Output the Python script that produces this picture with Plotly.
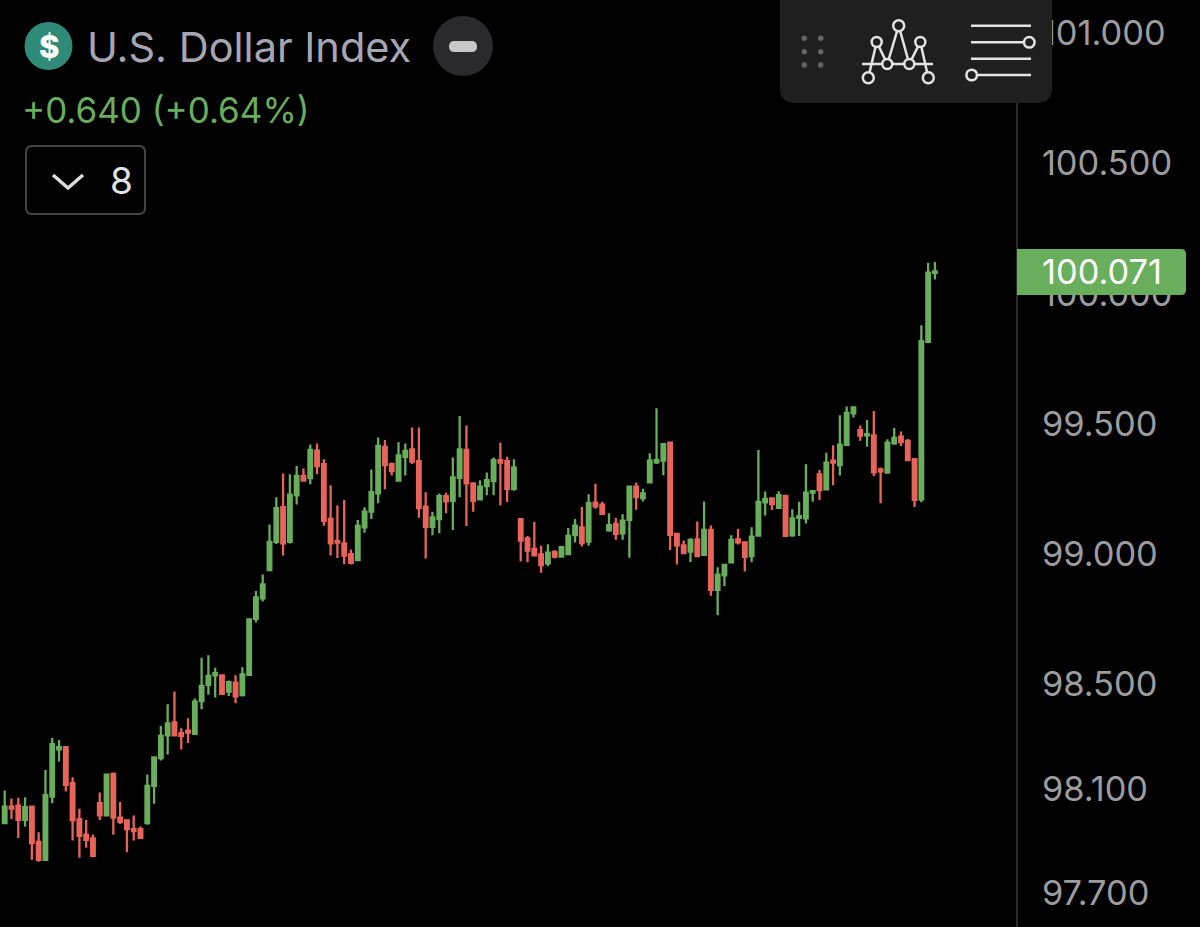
"""
U.S. Dollar Index candlestick chart on a dark phone-style screen
"""

import plotly.graph_objects as go

opens = [
    97.968, 98.031, 98.035, 97.980, 98.031, 97.896, 97.827, 98.070, 98.251, 98.259,
    98.121, 97.983, 97.924, 97.909, 98.044, 97.998, 98.157, 97.989, 97.978, 97.945,
    97.945, 97.968, 98.111, 98.217, 98.305, 98.354, 98.313, 98.323, 98.310, 98.436,
    98.498, 98.535, 98.535, 98.473, 98.507, 98.459, 98.537, 98.752, 98.830, 98.939,
    99.047, 99.180, 99.047, 99.226, 99.300, 99.292, 99.397, 99.345, 99.135, 99.050,
    99.041, 99.000, 98.977, 99.103, 99.163, 99.233, 99.412, 99.345, 99.282, 99.373,
    99.402, 99.357, 99.182, 99.105, 99.135, 99.223, 99.205, 99.293, 99.400, 99.272,
    99.210, 99.261, 99.281, 99.361, 99.357, 99.251, 99.134, 99.060, 99.020, 98.999,
    98.965, 99.009, 98.991, 99.000, 99.073, 99.103, 99.048, 99.198, 99.190, 99.091,
    99.116, 99.080, 99.132, 99.259, 99.215, 99.276, 99.352, 99.359, 99.428, 99.078,
    99.034, 99.010, 99.057, 98.997, 99.093, 98.863, 98.919, 98.969, 99.057, 99.045,
    98.993, 99.071, 99.199, 99.214, 99.178, 99.224, 99.072, 99.139, 99.137, 99.236,
    99.306, 99.249, 99.359, 99.342, 99.419, 99.540, 99.476, 99.456, 99.456, 99.325,
    99.313, 99.425, 99.451, 99.435, 99.365, 99.210, 99.815, 100.080,
]
highs = [
    98.093, 98.062, 98.065, 98.067, 98.034, 97.933, 98.172, 98.295, 98.287, 98.262,
    98.144, 98.023, 97.980, 97.924, 98.085, 98.157, 98.162, 98.049, 97.980, 97.997,
    97.955, 98.154, 98.221, 98.341, 98.424, 98.473, 98.332, 98.370, 98.446, 98.602,
    98.612, 98.564, 98.535, 98.515, 98.535, 98.566, 98.754, 98.859, 98.922, 99.114,
    99.218, 99.310, 99.307, 99.338, 99.329, 99.421, 99.425, 99.364, 99.264, 99.187,
    99.208, 99.018, 99.131, 99.180, 99.325, 99.448, 99.438, 99.352, 99.429, 99.425,
    99.486, 99.486, 99.238, 99.163, 99.233, 99.236, 99.371, 99.530, 99.494, 99.274,
    99.284, 99.313, 99.371, 99.428, 99.374, 99.364, 99.139, 99.070, 99.123, 99.032,
    99.038, 99.015, 99.032, 99.100, 99.135, 99.181, 99.230, 99.270, 99.201, 99.157,
    99.139, 99.153, 99.262, 99.275, 99.251, 99.387, 99.560, 99.426, 99.430, 99.080,
    99.052, 99.061, 99.125, 99.202, 99.110, 98.950, 98.963, 99.073, 99.097, 99.048,
    99.103, 99.400, 99.240, 99.214, 99.241, 99.227, 99.172, 99.201, 99.345, 99.246,
    99.323, 99.389, 99.418, 99.533, 99.567, 99.563, 99.494, 99.515, 99.549, 99.333,
    99.441, 99.484, 99.471, 99.442, 99.368, 99.878, 100.118, 100.121,
]
lows = [
    97.965, 97.984, 97.911, 97.955, 97.827, 97.820, 97.823, 98.044, 98.204, 98.089,
    97.901, 97.835, 97.873, 97.837, 97.980, 97.996, 97.923, 97.964, 97.856, 97.901,
    97.911, 97.962, 98.042, 98.208, 98.231, 98.303, 98.250, 98.275, 98.306, 98.405,
    98.460, 98.450, 98.463, 98.456, 98.428, 98.454, 98.537, 98.738, 98.818, 98.939,
    99.039, 98.995, 99.041, 99.191, 99.282, 99.268, 99.307, 99.109, 98.995, 98.985,
    98.961, 98.960, 98.977, 99.082, 99.135, 99.195, 99.249, 99.302, 99.282, 99.302,
    99.346, 99.140, 98.983, 99.073, 99.080, 99.157, 99.093, 99.218, 99.108, 99.163,
    99.210, 99.226, 99.226, 99.187, 99.200, 99.243, 98.972, 98.969, 98.994, 98.929,
    98.955, 98.983, 98.988, 98.999, 99.045, 99.029, 99.032, 99.174, 99.149, 99.086,
    99.055, 99.055, 98.986, 99.170, 99.202, 99.276, 99.346, 99.303, 99.016, 98.960,
    99.004, 98.970, 98.993, 98.996, 98.840, 98.766, 98.878, 98.968, 99.037, 98.933,
    98.969, 99.071, 99.148, 99.169, 99.178, 99.067, 99.067, 99.070, 99.118, 99.201,
    99.208, 99.244, 99.264, 99.302, 99.415, 99.524, 99.435, 99.412, 99.300, 99.195,
    99.310, 99.420, 99.415, 99.361, 99.181, 99.199, 99.809, 100.054,
]
closes = [
    98.031, 98.024, 97.980, 98.029, 97.891, 97.827, 98.075, 98.271, 98.259, 98.115,
    97.978, 97.919, 97.904, 97.842, 97.998, 98.154, 97.989, 97.973, 97.945, 97.937,
    97.911, 98.111, 98.220, 98.303, 98.351, 98.305, 98.303, 98.315, 98.434, 98.494,
    98.533, 98.543, 98.464, 98.509, 98.454, 98.539, 98.750, 98.834, 98.884, 99.047,
    99.177, 99.041, 99.228, 99.300, 99.282, 99.400, 99.338, 99.128, 99.041, 99.044,
    98.994, 98.967, 99.108, 99.163, 99.238, 99.415, 99.342, 99.319, 99.379, 99.396,
    99.355, 99.177, 99.105, 99.141, 99.223, 99.203, 99.295, 99.402, 99.272, 99.205,
    99.259, 99.284, 99.361, 99.351, 99.251, 99.333, 99.052, 99.014, 98.995, 98.958,
    99.006, 98.991, 99.027, 99.070, 99.109, 99.042, 99.196, 99.183, 99.155, 99.111,
    99.078, 99.129, 99.259, 99.219, 99.233, 99.359, 99.361, 99.422, 99.074, 99.034,
    99.004, 99.055, 98.993, 99.093, 98.863, 98.921, 98.959, 99.055, 99.045, 98.990,
    99.067, 99.201, 99.212, 99.192, 99.226, 99.070, 99.137, 99.146, 99.236, 99.242,
    99.246, 99.351, 99.351, 99.420, 99.542, 99.563, 99.455, 99.461, 99.314, 99.318,
    99.428, 99.446, 99.430, 99.361, 99.208, 99.817, 100.080, 100.085,
]
tick_values = [101.0, 100.5, 100.0, 99.5, 99.0, 98.5, 98.1, 97.7]
tick_labels = ["101.000", "100.500", "100.000", "99.500", "99.000", "98.500", "98.100", "97.700"]

title_text = "U.S. Dollar Index"
change_text = "+0.640 (+0.64%)"
interval_text = "8"
last_price_text = "100.071"

WIDTH = 1200
HEIGHT = 927
PLOT_W = 1016
GREEN = "#69ae5c"
RED = "#e8645a"
ICON = "#e4e4e4"
PANEL = "#1f1f1f"
FONT = "Inter"


def px(x):
    return x / PLOT_W


def py(y):
    return 1 - y / HEIGHT


def add_line(fig, points, color=ICON, width=2.5):
    path = "M " + " L ".join(f"{px(x)},{py(y)}" for x, y in points)
    fig.add_shape(type="path", path=path, xref="paper", yref="paper",
                  line={"color": color, "width": width})


def add_dot(fig, x, y, r, fill, line_color=None, width=2.5):
    fig.add_shape(type="circle", xref="paper", yref="paper",
                  x0=px(x - r), x1=px(x + r), y0=py(y + r), y1=py(y - r),
                  fillcolor=fill,
                  line={"color": line_color or fill, "width": width if line_color else 0})


def add_round_rect(fig, x0, y0, x1, y1, rad, fill, line_color=None, width=0, rad_left=None):
    # rounded box as a path, rad_left lets the left corners differ
    rl = rad if rad_left is None else rad_left
    path = (
        f"M {px(x0 + rl)},{py(y0)} L {px(x1 - rad)},{py(y0)} "
        f"Q {px(x1)},{py(y0)} {px(x1)},{py(y0 + rad)} L {px(x1)},{py(y1 - rad)} "
        f"Q {px(x1)},{py(y1)} {px(x1 - rad)},{py(y1)} L {px(x0 + rl)},{py(y1)} "
        f"Q {px(x0)},{py(y1)} {px(x0)},{py(y1 - rl)} L {px(x0)},{py(y0 + rl)} "
        f"Q {px(x0)},{py(y0)} {px(x0 + rl)},{py(y0)} Z"
    )
    fig.add_shape(type="path", path=path, xref="paper", yref="paper", fillcolor=fill,
                  line={"color": line_color or fill, "width": width})


def add_text(fig, x, y, text, size, color, weight=400, anchor="left"):
    fig.add_annotation(xref="paper", yref="paper", x=px(x), y=py(y), text=text,
                       showarrow=False, xanchor=anchor, yanchor="middle",
                       font={"family": FONT, "size": size, "color": color, "weight": weight})


fig = go.Figure(
    go.Candlestick(
        x=list(range(len(closes))),
        open=opens,
        high=highs,
        low=lows,
        close=closes,
        whiskerwidth=0,
        increasing={"line": {"color": GREEN, "width": 2.3}, "fillcolor": GREEN},
        decreasing={"line": {"color": RED, "width": 2.3}, "fillcolor": RED},
    )
)

fig.update_layout(
    width=WIDTH,
    height=HEIGHT,
    margin={"l": 0, "r": WIDTH - PLOT_W, "t": 0, "b": 0},
    paper_bgcolor="#000000",
    plot_bgcolor="#000000",
    showlegend=False,
    boxgap=0.25,
)
fig.update_xaxes(range=[-0.692, 148.94], visible=False, rangeslider={"visible": False})
fig.update_yaxes(
    side="right",
    range=[97.5692, 101.1266],
    tickvals=tick_values,
    ticktext=tick_labels,
    tickfont={"family": FONT, "size": 34.4, "color": "#9c9c9f"},
    ticks="",
    ticklabelstandoff=17,
    showgrid=False,
    zeroline=False,
    showline=True,
    linecolor="#2b2b2b",
    linewidth=2,
)

# Header, left side
add_dot(fig, 48.5, 46, 24, "#2f8a78")
add_text(fig, 48.5, 46, "$", 31, "#ffffff", weight=800, anchor="center")
add_text(fig, 85, 47, title_text, 41.5, "#a6a6b2")
add_dot(fig, 463, 46, 30, "#2a2a2c")
add_round_rect(fig, 449, 41, 477, 52, 5.5, "#c8c8c8")
add_text(fig, 20, 110, change_text, 35, GREEN)
add_round_rect(fig, 26, 146, 145, 214, 6, "#000000", line_color="#454545", width=2)
add_line(fig, [(53, 175), (68, 188), (83, 175)], color="#dddddd", width=3.5)
add_text(fig, 121, 180, interval_text, 37, "#e2e2e2", anchor="center")

# Last price tag, sits on top of the 100.000 tick label
add_round_rect(fig, 1017, 249, 1186, 295, 5, GREEN, rad_left=0)
fig.add_annotation(xref="paper", yref="y", x=px(1040), y=closes[-1], text=last_price_text,
                   showarrow=False, xanchor="left", yanchor="middle",
                   font={"family": FONT, "size": 34.4, "color": "#ffffff"})

# Floating tool panel, covers the first digit of 101.000
add_round_rect(fig, 780, -14, 1052, 103, 15, PANEL)
for x in (804.3, 820.7):
    for y in (38.3, 51.7, 65):
        add_dot(fig, x, y, 2.7, "#666666")

add_line(fig, [(862, 64), (933, 64)])
add_line(fig, [(868.3, 77.7), (876.7, 42), (887.3, 64), (898.7, 25.7),
               (909.3, 64), (920.3, 42), (928.3, 77.7)])
add_dot(fig, 898.7, 25.7, 5.5, PANEL, ICON)
add_dot(fig, 876.7, 42, 5, PANEL, ICON)
add_dot(fig, 920.3, 42, 5, PANEL, ICON)
add_dot(fig, 887.3, 64, 5, PANEL, ICON)
add_dot(fig, 909.3, 64, 5, PANEL, ICON)
add_dot(fig, 868.3, 77.7, 5.5, PANEL, ICON)
add_dot(fig, 928.3, 77.7, 5.5, PANEL, ICON)

add_line(fig, [(971, 25.7), (1031, 25.7)])
add_line(fig, [(971, 42.3), (1025, 42.3)])
add_line(fig, [(971, 58.7), (1031, 58.7)])
add_line(fig, [(978, 75), (1031, 75)])
add_dot(fig, 1029.3, 42.3, 5.3, PANEL, ICON)
add_dot(fig, 971.7, 75, 5.3, PANEL, ICON)

fig.write_html(
    "out.html",
    config={"displayModeBar": False},
    post_script="document.body.style.margin = '0';",
)
